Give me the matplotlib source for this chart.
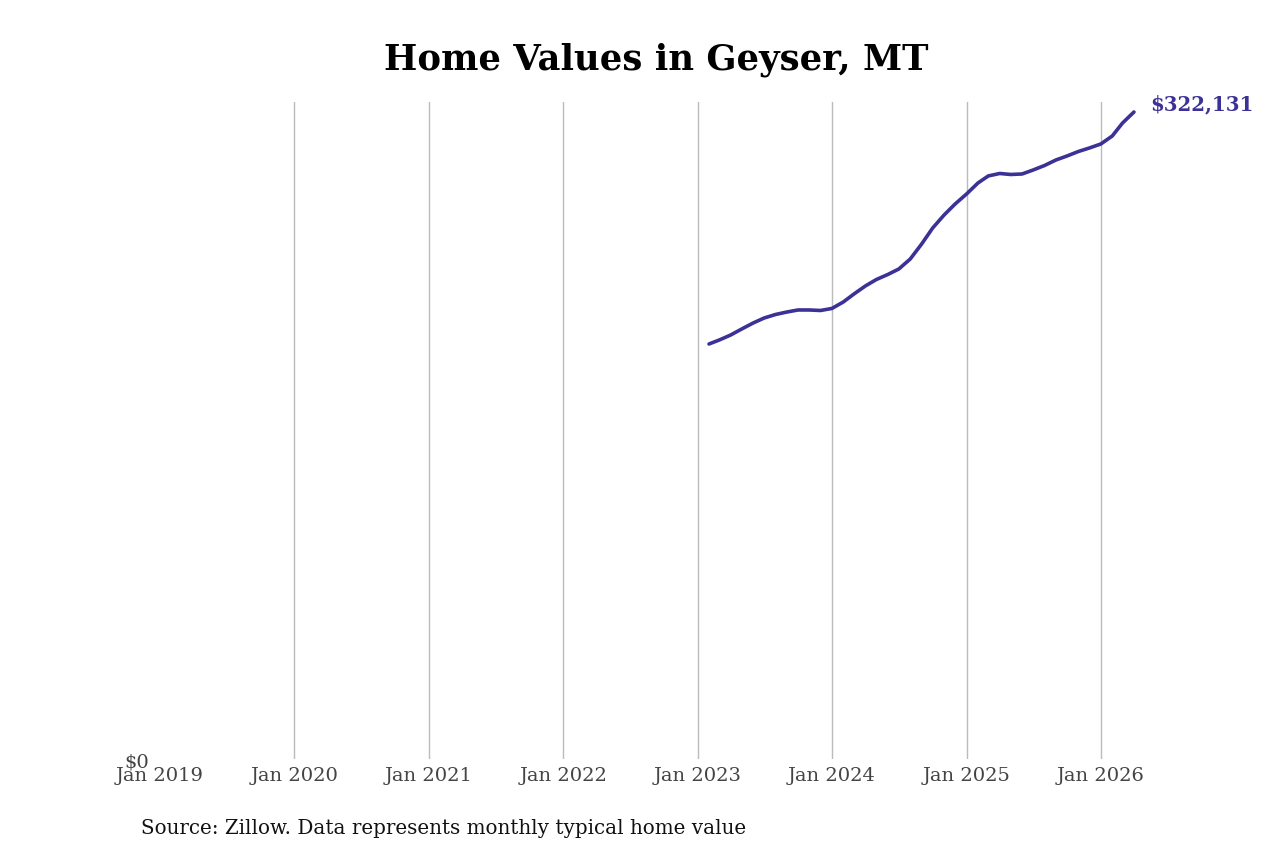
import pandas as pd
import matplotlib
matplotlib.use("Agg")
import matplotlib.pyplot as plt

# monthly typical home value, Feb 2023 - Apr 2026
months = pd.date_range("2023-02-01", "2026-04-01", freq="MS")
values = [206630, 208620, 211110, 214100, 217080, 219570, 221320, 222560, 223560, 223560,
          223310, 224310, 227540, 231520, 235510, 238740, 241230, 243970, 248950, 256420,
          264390, 270860, 276340, 281310, 286790, 290280, 291520, 291020, 291270, 293260,
          295500, 298240, 300230, 302470, 304220, 306210, 310190, 316660, 322131]
tick_years = list(range(2019, 2027))

line_color = "#3b3196"

plt.rcParams["font.family"] = "DejaVu Serif"
fig = plt.figure(figsize=(12.8, 8.53), dpi=100)
ax = fig.add_axes([0.125, 0.109, 0.775, 0.770])

ax.plot(months, values, color=line_color, lw=2.6, solid_capstyle="round")
ax.annotate(f"${values[-1]:,}", (months[-1], values[-1]), xytext=(12, 6),
            textcoords="offset points", color=line_color, fontsize=14.2,
            fontweight="bold", va="center", ha="left")

ticks = [pd.Timestamp(f"{y}-01-01") for y in tick_years]
ax.set_xticks(ticks)
ax.set_xticklabels([t.strftime("Jan %Y") for t in ticks])
ax.set_xlim(pd.Timestamp("2019-01-01"), pd.Timestamp("2026-05-20"))
ax.set_ylim(0, 327000)
ax.set_yticks([0])
ax.set_yticklabels(["$0"])

ax.grid(axis="x", color="#bbbbbb", lw=1)
ax.xaxis.get_gridlines()[0].set_visible(False)
ax.set_axisbelow(True)
for s in ax.spines.values():
    s.set_visible(False)
ax.tick_params(axis="both", length=0, labelsize=14, labelcolor="#444444")
ax.tick_params(axis="x", pad=5)
ax.tick_params(axis="y", pad=8)

ax.set_title("Home Values in Geyser, MT", fontsize=25.5, fontweight="bold", pad=24)
fig.text(0.11, 0.022, "Source: Zillow. Data represents monthly typical home value",
         fontsize=14.3, color="#111111")

fig.savefig("out.png", dpi=100)
